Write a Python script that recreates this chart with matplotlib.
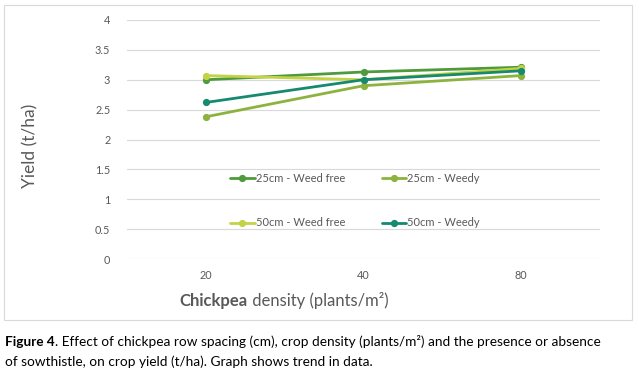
import matplotlib
matplotlib.use("Agg")
import matplotlib.pyplot as plt
from matplotlib.patches import Rectangle

plt.rcParams['font.family'] = ['Lato', 'DejaVu Sans']

categories = ["20", "40", "80"]
series_names = ["25cm - Weed free", "25cm - Weedy", "50cm - Weed free", "50cm - Weedy"]
wf25 = [3.00, 3.13, 3.21]
w25 = [2.38, 2.90, 3.07]
wf50 = [3.07, 3.00, 3.19]
w50 = [2.62, 3.00, 3.15]
colors = ["#4E9A3C", "#8DB33E", "#C4D345", "#16896F"]
yticks = [0, 0.5, 1, 1.5, 2, 2.5, 3, 3.5, 4]
ytick_labels = ["0", "0.5", "1", "1.5", "2", "2.5", "3", "3.5", "4"]

fig = plt.figure(figsize=(6.39, 3.71), dpi=100)
fig.patch.set_facecolor("white")

# outer chart border
fig.add_artist(Rectangle((4/639, 1-320/371), 628/639, 315/371, transform=fig.transFigure,
                         fill=False, edgecolor="#D9D9D9", linewidth=0.8))

ax = fig.add_axes([127/639, 1-259/371, 473/639, 239/371])
x = list(range(len(categories)))
lines = []
for vals, name, c in zip([wf25, w25, wf50, w50], series_names, colors):
    l, = ax.plot(x, vals, color=c, linewidth=2.0, marker="o", markersize=4.2, label=name,
                 solid_capstyle="round")
    lines.append(l)

ax.set_xlim(-0.5, 2.5)
ax.set_ylim(0, 4)
ax.set_yticks(yticks)
ax.set_yticklabels(ytick_labels)
ax.set_xticks(x)
ax.set_xticklabels(categories)
ax.grid(axis="y", color="#D9D9D9", linewidth=0.8)
ax.set_axisbelow(True)
for s in ax.spines.values():
    s.set_visible(False)
ax.tick_params(axis="both", length=0, labelsize=7.8, labelcolor="#595959")
ax.tick_params(axis="y", pad=12)
ax.tick_params(axis="x", pad=8)

leg = ax.legend([lines[0], lines[2], lines[1], lines[3]],
                [series_names[0], series_names[2], series_names[1], series_names[3]],
                ncol=2, loc="center", bbox_to_anchor=(0.482, 0.245), frameon=False,
                fontsize=8, labelcolor="#595959", handlelength=2.2, handletextpad=0.1,
                labelspacing=3.05, columnspacing=3.3)

fig.text(30/639, 1-146/371, "Yield (t/ha)", rotation=90, ha="center", va="center",
         fontsize=12.5, color="#595959")

# x label with bold part
fig.canvas.draw()
r = fig.canvas.get_renderer()
t1 = fig.text(0, 1-306/371, "Chickpea", fontsize=12, fontweight="bold", color="#595959",
              ha="left", va="baseline")
t2 = fig.text(0, 1-306/371, " density (plants/m²)", fontsize=12, color="#595959",
              ha="left", va="baseline")
w1 = t1.get_window_extent(r).width
w2 = t2.get_window_extent(r).width
start = 284 - (w1 + w2) / 2
t1.set_x(start / 639)
t2.set_x((start + w1) / 639)

# caption
c1 = fig.text(5/639, 1-346/371, "Figure 4", fontsize=9.8, fontweight="bold", color="black",
              ha="left", va="baseline")
wc = c1.get_window_extent(r).width
fig.text((5 + wc)/639, 1-346/371,
         ". Effect of chickpea row spacing (cm), crop density (plants/m²) and the presence or absence",
         fontsize=9.8, color="black", ha="left", va="baseline")
fig.text(5/639, 1-366/371, "of sowthistle, on crop yield (t/ha). Graph shows trend in data.",
         fontsize=9.8, color="black", ha="left", va="baseline")

fig.savefig("out.png", dpi=100, facecolor="white")
